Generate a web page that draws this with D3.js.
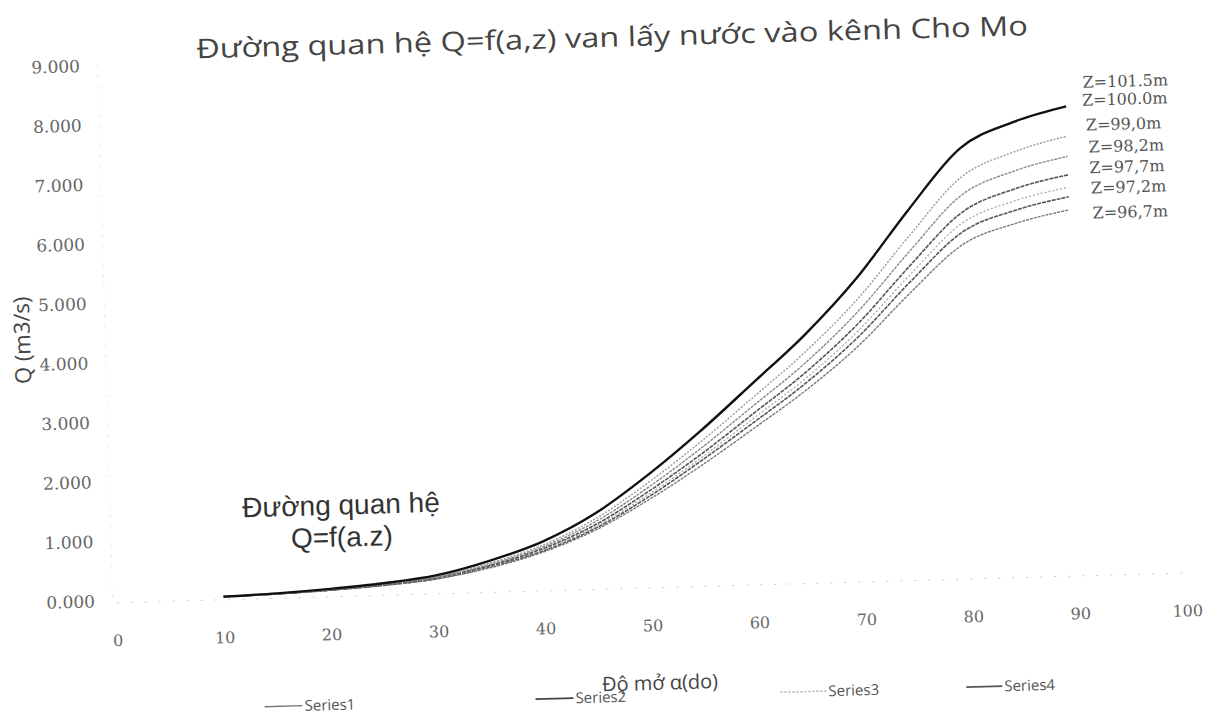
<!DOCTYPE html>
<html>
<head>
<meta charset="utf-8">
<script src="https://cdn.jsdelivr.net/npm/d3@7"></script>
<style>
  html, body { margin: 0; padding: 0; background: #fff; }
  svg { display: block; }
</style>
</head>
<body>
<svg id="chart" width="1217" height="717"></svg>
<script>
// Gate opening angle (degrees)
const alpha = [10, 15, 20, 25, 30, 35, 40, 45, 50, 55, 60, 65, 70, 75, 80, 85, 90];

// Discharge Q (m3/s) for each upstream water level Z
const qZ1015 = [0.02, 0.05, 0.10, 0.17, 0.28, 0.50, 0.80, 1.25, 1.87, 2.58, 3.36, 4.15, 5.08, 6.20, 7.21, 7.62, 7.86];
const qZ1000 = [0.02, 0.05, 0.09, 0.16, 0.26, 0.46, 0.74, 1.16, 1.74, 2.40, 3.12, 3.86, 4.72, 5.76, 6.72, 7.12, 7.36];
const qZ990  = [0.02, 0.04, 0.09, 0.15, 0.25, 0.44, 0.71, 1.11, 1.66, 2.29, 2.98, 3.68, 4.51, 5.50, 6.42, 6.80, 7.02];
const qZ982  = [0.02, 0.04, 0.08, 0.14, 0.24, 0.42, 0.68, 1.06, 1.59, 2.19, 2.85, 3.52, 4.31, 5.26, 6.13, 6.50, 6.71];
const qZ977  = [0.02, 0.04, 0.08, 0.14, 0.23, 0.41, 0.66, 1.03, 1.54, 2.13, 2.77, 3.42, 4.19, 5.11, 5.95, 6.30, 6.50];
const qZ972  = [0.02, 0.04, 0.08, 0.14, 0.22, 0.40, 0.64, 1.00, 1.50, 2.08, 2.70, 3.34, 4.09, 4.99, 5.80, 6.14, 6.34];
const qZ967  = [0.02, 0.04, 0.08, 0.13, 0.22, 0.38, 0.62, 0.97, 1.45, 2.00, 2.60, 3.22, 3.94, 4.81, 5.59, 5.92, 6.12];

const zLabels = ["Z=101.5m", "Z=100.0m", "Z=99,0m", "Z=98,2m", "Z=97,7m", "Z=97,2m", "Z=96,7m"];
const legendNames = ["Series1", "Series2", "Series3", "Series4"];

const xTicks = [0, 10, 20, 30, 40, 50, 60, 70, 80, 90, 100];
const yTicks = [0, 1, 2, 3, 4, 5, 6, 7, 8, 9];

const titleText = "Đường quan hệ Q=f(a,z) van lấy nước vào kênh Cho Mo";
const noteLines = ["Đường quan hệ", "Q=f(a.z)"];

// ---------------------------------------------------------------
const seriesQ = [qZ1015, qZ1000, qZ990, qZ982, qZ977, qZ972, qZ967];
const series = seriesQ.map((q, i) => ({
  name: zLabels[i],
  points: alpha.map((a, j) => ({ a, q: q[j] }))
}));

// line appearance per curve (top curve solid black, rest grey toner-like)
const curveStyle = [
  { stroke: "#111", width: 2.4, dash: null },
  { stroke: "#9a9a9a", width: 1.4, dash: "2,1.5" },
  { stroke: "#8a8a8a", width: 1.4, dash: "3,1" },
  { stroke: "#555", width: 1.6, dash: "4,1" },
  { stroke: "#a8a8a8", width: 1.3, dash: "2,2" },
  { stroke: "#555", width: 1.6, dash: "4,1" },
  { stroke: "#7a7a7a", width: 1.4, dash: "3,1" }
];
// where each Z label sits (data units: angle of left edge, Q of centre)
const labelAt = [
  { a: 91.6, q: 8.26 }, { a: 91.5, q: 7.96 }, { a: 91.8, q: 7.54 },
  { a: 92.0, q: 7.17 }, { a: 92.0, q: 6.82 }, { a: 92.1, q: 6.48 }, { a: 92.2, q: 6.06 }
];

const svg = d3.select("#chart");
const root = svg.append("g").attr("transform", "rotate(-1.6, 608, 358)");

const x = d3.scaleLinear().domain([0, 100]).range([110, 1180]);
const y = d3.scaleLinear().domain([0, 9]).range([587, 51.5]);

// title
root.append("text")
  .attr("x", 621).attr("y", 47)
  .attr("text-anchor", "middle")
  .attr("font-family", "'Open Sans', 'Noto Sans', sans-serif")
  .attr("font-size", 27)
  .attr("fill", "#444")
  .attr("textLength", 832)
  .attr("lengthAdjust", "spacingAndGlyphs")
  .text(titleText);

// faint axis lines
root.append("line")
  .attr("x1", x(0) - 4).attr("x2", x(0) - 4)
  .attr("y1", y(9)).attr("y2", y(0))
  .attr("stroke", "#c8c8c8").attr("stroke-width", 1)
  .attr("stroke-dasharray", "1,9");
root.append("line")
  .attr("x1", x(0)).attr("x2", x(100))
  .attr("y1", y(0) + 2).attr("y2", y(0) + 2)
  .attr("stroke", "#c8c8c8").attr("stroke-width", 1)
  .attr("stroke-dasharray", "2,12");

// y axis tick labels, centred in a column left of the plot
const yAxis = d3.axisLeft(y).tickValues(yTicks).tickFormat(d3.format(".3f")).tickSize(0).tickPadding(0);
const yg = root.append("g").attr("transform", `translate(${x(0) - 46},0)`).call(yAxis);
yg.select(".domain").remove();
yg.selectAll("text")
  .attr("text-anchor", "middle")
  .attr("font-family", "'DejaVu Serif', serif")
  .attr("font-size", 17)
  .attr("fill", "#666");

// x axis tick labels, set below the zero line
const xAxis = d3.axisBottom(x).tickValues(xTicks).tickFormat(d3.format("d")).tickSize(0).tickPadding(0);
const xg = root.append("g").attr("transform", `translate(0,${y(0) + 34})`).call(xAxis);
xg.select(".domain").remove();
xg.selectAll("text")
  .attr("font-family", "'DejaVu Serif', serif")
  .attr("font-size", 16)
  .attr("fill", "#666");

// axis titles
root.append("text")
  .attr("transform", `translate(23, 324) rotate(-90)`)
  .attr("text-anchor", "middle")
  .attr("dy", "0.35em")
  .attr("font-family", "'Open Sans', sans-serif")
  .attr("font-size", 22)
  .attr("fill", "#444")
  .text("Q (m3/s)");

root.append("text")
  .attr("x", 651).attr("y", 691)
  .attr("text-anchor", "middle")
  .attr("font-family", "'Open Sans', sans-serif")
  .attr("font-size", 20)
  .attr("fill", "#444")
  .text("Độ mở α(do)");

// curves
const line = d3.line()
  .x(d => x(d.a))
  .y(d => y(d.q))
  .curve(d3.curveMonotoneX);

const curves = root.append("g");
series.slice().reverse().forEach((s, k) => {
  const i = series.length - 1 - k;
  const st = curveStyle[i];
  curves.append("path")
    .datum(s.points)
    .attr("d", line)
    .attr("fill", "none")
    .attr("stroke", st.stroke)
    .attr("stroke-width", st.width)
    .attr("stroke-dasharray", st.dash);
});

// Z labels at the right
root.append("g").selectAll("text")
  .data(zLabels)
  .join("text")
  .attr("x", (d, i) => x(labelAt[i].a))
  .attr("y", (d, i) => y(labelAt[i].q))
  .attr("dy", "0.35em")
  .attr("font-family", "'DejaVu Serif', serif")
  .attr("font-size", 16)
  .attr("fill", "#555")
  .text(d => d);

// note inside the plot
root.append("g").selectAll("text")
  .data(noteLines)
  .join("text")
  .attr("x", 337)
  .attr("y", (d, i) => 507 + i * 32)
  .attr("text-anchor", "middle")
  .attr("font-family", "'Liberation Sans', Arial, sans-serif")
  .attr("font-size", 28)
  .attr("fill", "#333")
  .text(d => d);

// legend
const legendStyle = [
  { stroke: "#777", width: 1.4, dash: null, len: 38 },
  { stroke: "#444", width: 1.6, dash: null, len: 38 },
  { stroke: "#aaa", width: 1.4, dash: "2,2", len: 46 },
  { stroke: "#555", width: 1.6, dash: null, len: 36 }
];
const legendOffset = [0, 271, 516, 702];
const lg = root.append("g").attr("transform", "translate(255, 697)");
const items = lg.selectAll("g")
  .data(legendNames)
  .join("g")
  .attr("transform", (d, i) => `translate(${legendOffset[i]},0)`);
items.append("line")
  .attr("x1", 0).attr("x2", (d, i) => legendStyle[i].len)
  .attr("y1", 0).attr("y2", 0)
  .attr("stroke", (d, i) => legendStyle[i].stroke)
  .attr("stroke-width", (d, i) => legendStyle[i].width)
  .attr("stroke-dasharray", (d, i) => legendStyle[i].dash);
items.append("text")
  .attr("x", (d, i) => legendStyle[i].len + 2).attr("y", 0)
  .attr("dy", "0.35em")
  .attr("font-family", "'Liberation Sans Narrow', 'Open Sans', sans-serif")
  .attr("font-size", 15)
  .attr("fill", "#555")
  .text(d => d);
</script>
</body>
</html>
